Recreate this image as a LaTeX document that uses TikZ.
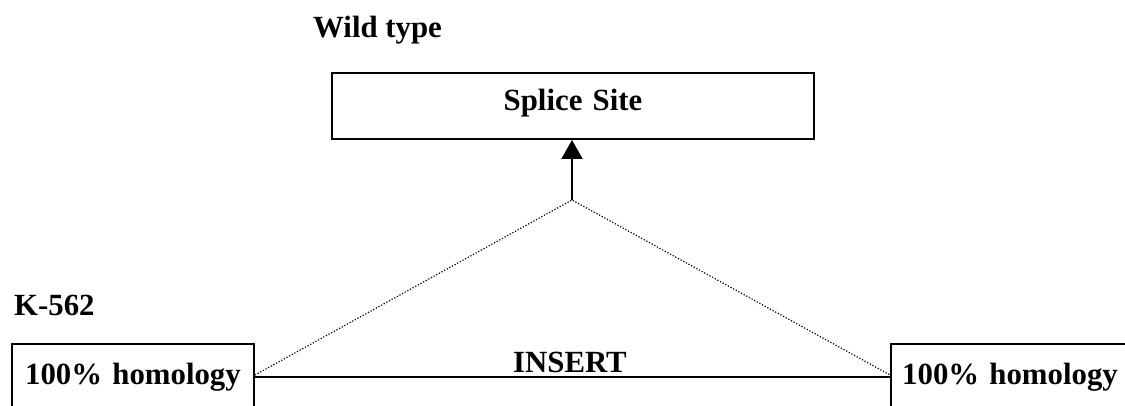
\documentclass[tikz,border=0pt]{standalone}
\usepackage{fontspec}
\setmainfont{Liberation Serif}
\usetikzlibrary{arrows.meta,calc}

\tikzset{
  lbl/.style={font=\fontsize{30.8}{36}\selectfont\bfseries, inner sep=0pt},
  box/.style={draw, line width=2pt, inner sep=0pt, align=center,
    font=\fontsize{30.8}{36}\selectfont\bfseries},
  solidline/.style={line width=2pt},
  dotline/.style={line width=1.2pt, dash pattern=on 1.2pt off 1.8pt},
  uparrow/.style={line width=2pt, -{Triangle[length=19pt,width=21pt]}}
}

\begin{document}
\begin{tikzpicture}[x=1pt,y=-1pt]
  \clip (0,0) rectangle (1125,406);
  \fill[white] (0,0) rectangle (1125,406);

  % headings
  \node[lbl, anchor=base west] (wt) at (313,38) {Wild type};
  \node[lbl, anchor=base west] (k562) at (14,316) {K-562};

  % splice site box
  \node[box, anchor=north west, text width=482pt, text height=38pt, text depth=28pt]
    (splice) at (331,72) {Splice Site};

  % homology boxes (run past the lower edge)
  \node[box, anchor=north west, text width=242pt, text height=40pt, text depth=60pt]
    (lbox) at (11,343) {100\% homology};
  \node[box, anchor=north west, text width=238pt, text height=40pt, text depth=60pt]
    (rbox) at (890,343) {100\% homology};

  % junction points and apex
  \coordinate (lj) at ([yshift=-34pt]lbox.north east);
  \coordinate (rj) at ([yshift=-34pt]rbox.north west);
  \coordinate (apex) at (572,200);

  % insert line and label
  \draw[solidline] (lj) -- (rj);
  \node[lbl, anchor=base] (ins) at (570,372) {INSERT};

  % dotted splice triangle
  \draw[dotline] ([yshift=2pt]lj) -- (apex) -- ([yshift=2pt]rj);

  % arrow up to the splice site
  \draw[uparrow] (apex) -- (splice.south -| apex);
\end{tikzpicture}
\end{document}
